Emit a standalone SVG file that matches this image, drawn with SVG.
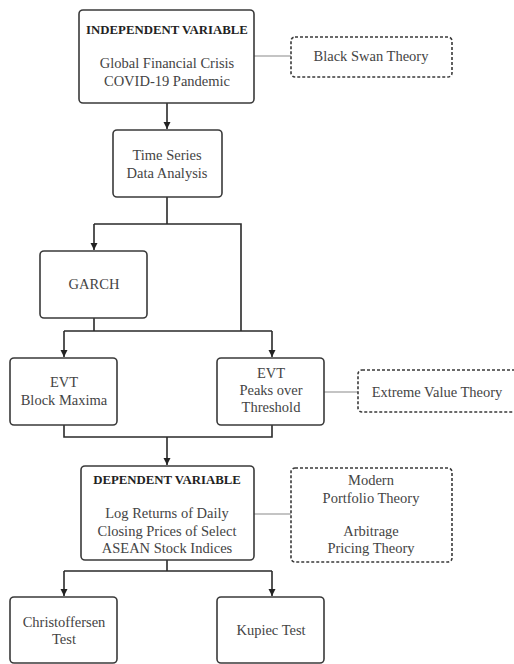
<svg xmlns="http://www.w3.org/2000/svg" width="514" height="664" viewBox="0 0 514 664">
  <defs>
    <marker id="arrow" viewBox="0 0 10 10" refX="10" refY="5" markerWidth="7" markerHeight="9" orient="auto" markerUnits="userSpaceOnUse">
      <path d="M0,0 L10,5 L0,10 Z" fill="#222"/>
    </marker>
    <style>
      .box { fill: #fff; stroke: #3a3a3a; stroke-width: 1.6; }
      .theory { fill: #fff; stroke: #3a3a3a; stroke-width: 1.6; stroke-dasharray: 3 2; }
      .flow { fill: none; stroke: #2a2a2a; stroke-width: 1.6; }
      .link { fill: none; stroke: #8a8a8a; stroke-width: 1.2; }
      text { font-family: "Liberation Serif", "DejaVu Serif", serif; font-size: 14.5px; fill: #444; text-anchor: middle; }
      .title { font-weight: bold; font-size: 12.8px; fill: #222; }
    </style>
  </defs>
  <rect width="514" height="664" fill="#fff"/>

  <!-- connectors -->
  <g id="connectors">
    <path class="flow" d="M167,103 V129" marker-end="url(#arrow)"/>
    <path class="flow" d="M167,197 V224 M94,224 H241 V331"/>
    <path class="flow" d="M94,224 V250" marker-end="url(#arrow)"/>
    <path class="flow" d="M94,318 V331 M64,331 H272"/>
    <path class="flow" d="M64,331 V357" marker-end="url(#arrow)"/>
    <path class="flow" d="M272,331 V357" marker-end="url(#arrow)"/>
    <path class="flow" d="M64,425 V437 H272 V425"/>
    <path class="flow" d="M167,437 V465" marker-end="url(#arrow)"/>
    <path class="flow" d="M167,560 V571 M64,571 H272"/>
    <path class="flow" d="M64,571 V596" marker-end="url(#arrow)"/>
    <path class="flow" d="M272,571 V596" marker-end="url(#arrow)"/>
    <path class="link" d="M254,56 H291"/>
    <path class="link" d="M324,392 H358"/>
    <path class="link" d="M254,514 H291"/>
  </g>

  <g id="independent-variable">
    <rect class="box" x="79" y="10" width="175" height="93" rx="4"/>
    <text class="title" x="167" y="34">INDEPENDENT VARIABLE</text>
    <text x="167" y="68">Global Financial Crisis</text>
    <text x="167" y="86">COVID-19 Pandemic</text>
  </g>

  <g id="black-swan-theory">
    <rect class="theory" x="291" y="37" width="161" height="40" rx="4"/>
    <text x="371" y="61">Black Swan Theory</text>
  </g>

  <g id="time-series">
    <rect class="box" x="113" y="130" width="109" height="67" rx="4"/>
    <text x="167" y="160">Time Series</text>
    <text x="167" y="178">Data Analysis</text>
  </g>

  <g id="garch">
    <rect class="box" x="40" y="251" width="107" height="67" rx="4"/>
    <text x="94" y="289">GARCH</text>
  </g>

  <g id="evt-block-maxima">
    <rect class="box" x="10" y="358" width="107" height="67" rx="4"/>
    <text x="64" y="387">EVT</text>
    <text x="64" y="405">Block Maxima</text>
  </g>

  <g id="evt-peaks-over-threshold">
    <rect class="box" x="217" y="358" width="107" height="67" rx="4"/>
    <text x="271" y="378">EVT</text>
    <text x="271" y="395">Peaks over</text>
    <text x="271" y="412">Threshold</text>
  </g>

  <g id="extreme-value-theory">
    <rect class="theory" x="358" y="370" width="170" height="42" rx="4"/>
    <text x="437" y="397">Extreme Value Theory</text>
  </g>

  <g id="dependent-variable">
    <rect class="box" x="81" y="466" width="173" height="94" rx="4"/>
    <text class="title" x="167" y="484">DEPENDENT VARIABLE</text>
    <text x="167" y="518">Log Returns of Daily</text>
    <text x="167" y="536">Closing Prices of Select</text>
    <text x="167" y="553">ASEAN Stock Indices</text>
  </g>

  <g id="portfolio-theories">
    <rect class="theory" x="291" y="468" width="161" height="94" rx="4"/>
    <text x="371" y="485">Modern</text>
    <text x="371" y="503">Portfolio Theory</text>
    <text x="371" y="536">Arbitrage</text>
    <text x="371" y="553">Pricing Theory</text>
  </g>

  <g id="christoffersen-test">
    <rect class="box" x="10" y="597" width="107" height="66" rx="4"/>
    <text x="64" y="627">Christoffersen</text>
    <text x="64" y="644">Test</text>
  </g>

  <g id="kupiec-test">
    <rect class="box" x="217" y="597" width="107" height="66" rx="4"/>
    <text x="271" y="635">Kupiec Test</text>
  </g>
</svg>
